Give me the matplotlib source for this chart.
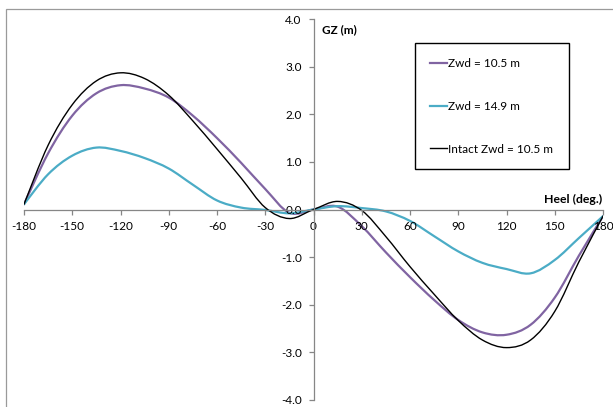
import matplotlib
matplotlib.use("Agg")
import matplotlib.pyplot as plt
import numpy as np
from matplotlib.path import Path
from matplotlib.patches import PathPatch, Rectangle
from matplotlib.lines import Line2D

# ---- data ----
heel = [-180, -165, -150, -135, -120, -105, -90, -75, -60, -45, -30, -15, 0,
        15, 30, 45, 60, 75, 90, 105, 120, 135, 150, 165, 180]
gz_zwd_105 = [0.11, 1.18, 1.97, 2.44, 2.61, 2.54, 2.35, 1.97, 1.50, 0.98, 0.43, -0.07, 0.0,
              0.06, -0.35, -0.90, -1.42, -1.90, -2.32, -2.58, -2.63, -2.42, -1.85, -0.97, -0.14]
gz_zwd_149 = [0.11, 0.74, 1.13, 1.30, 1.23, 1.08, 0.86, 0.52, 0.19, 0.04, -0.01, -0.08, 0.0,
              0.07, 0.03, -0.04, -0.24, -0.56, -0.88, -1.12, -1.25, -1.34, -1.06, -0.60, -0.14]
gz_intact = [0.11, 1.35, 2.20, 2.70, 2.87, 2.75, 2.40, 1.86, 1.27, 0.66, 0.04, -0.19, 0.0,
             0.17, -0.02, -0.57, -1.20, -1.78, -2.33, -2.74, -2.90, -2.74, -2.14, -1.10, -0.14]
labels = ["Zwd = 10.5 m", "Zwd = 14.9 m", "Intact Zwd = 10.5 m"]
colors = ["#8064A2", "#4BACC6", "#000000"]
widths = [1.6, 1.6, 1.0]
xticks = [-180, -150, -120, -90, -60, -30, 0, 30, 60, 90, 120, 150, 180]
yticks = [-4.0, -3.0, -2.0, -1.0, 0.0, 1.0, 2.0, 3.0, 4.0]

FONT = ["Lato", "DejaVu Sans"]
plt.rcParams['font.family'] = FONT
FS = 8.5

W, H = 613, 407
fig = plt.figure(figsize=(W / 100, H / 100), dpi=100)
ax = fig.add_axes([24 / W, 1 - 400 / H, 579 / W, 381 / H])
ax.set_xlim(-180, 180)
ax.set_ylim(-4, 4)


def smooth_path(x, y):
    """Excel-like smoothed line: Catmull-Rom segments as cubic Bezier curves."""
    p = np.column_stack([x, y]).astype(float)
    verts = [p[0]]
    codes = [Path.MOVETO]
    n = len(p)
    for i in range(n - 1):
        p0 = p[i - 1] if i > 0 else p[i]
        p1 = p[i]
        p2 = p[i + 1]
        p3 = p[i + 2] if i + 2 < n else p[i + 1]
        c1 = p1 + (p2 - p0) / 6.0
        c2 = p2 - (p3 - p1) / 6.0
        verts += [c1, c2, p2]
        codes += [Path.CURVE4] * 3
    return Path(verts, codes)


handles = []
for ys, c, lw, lab in zip([gz_zwd_105, gz_zwd_149, gz_intact], colors, widths, labels):
    patch = PathPatch(smooth_path(heel, ys), facecolor="none", edgecolor=c,
                      lw=lw, transform=ax.transData, capstyle="round", joinstyle="round")
    ax.add_patch(patch)
    handles.append(Line2D([], [], color=c, lw=lw))

# axes through the origin
for s in ["top", "right"]:
    ax.spines[s].set_visible(False)
ax.spines["left"].set_position(("data", 0))
ax.spines["bottom"].set_position(("data", 0))
for s in ["left", "bottom"]:
    ax.spines[s].set_color("#868686")
    ax.spines[s].set_linewidth(0.9)

ax.set_xticks(xticks)
ax.set_xticklabels([str(t) for t in xticks])
ax.set_yticks(yticks)
ax.set_yticklabels([f"{t:.1f}" for t in yticks])
ax.tick_params(axis="both", colors="#868686", labelcolor="black", labelsize=FS,
               length=3.5, width=0.9, direction="out")
ax.tick_params(axis="x", pad=5)
ax.tick_params(axis="y", pad=5)
ax.patch.set_visible(False)

ax.text(5, 3.78, "GZ (m)", fontsize=FS, fontweight="bold", ha="left", va="center")
ax.text(179.5, 0.22, "Heel (deg.)", fontsize=FS + 0.3, fontweight="bold", ha="right", va="center")

leg = ax.legend(handles, labels, loc="upper left",
                bbox_to_anchor=(415 / W, 1 - 43 / H), bbox_transform=fig.transFigure,
                fontsize=FS, frameon=False,
                handlelength=1.45, handletextpad=0.1, labelspacing=2.7,
                borderpad=1.25, borderaxespad=0.0)
# legend frame as in the reference
fig.patches.append(Rectangle((415 / W, 1 - 169 / H), 154 / W, 126 / H, transform=fig.transFigure,
                             fill=False, edgecolor="black", lw=1.0))

# outer chart border (partly cropped in the reference)
fig.patches.append(Rectangle((6 / W, -0.2), 1.2, 1 - 9 / H + 0.2, transform=fig.transFigure,
                             fill=False, edgecolor="#9A9A9A", lw=0.9))

fig.savefig("out.png", dpi=100)
